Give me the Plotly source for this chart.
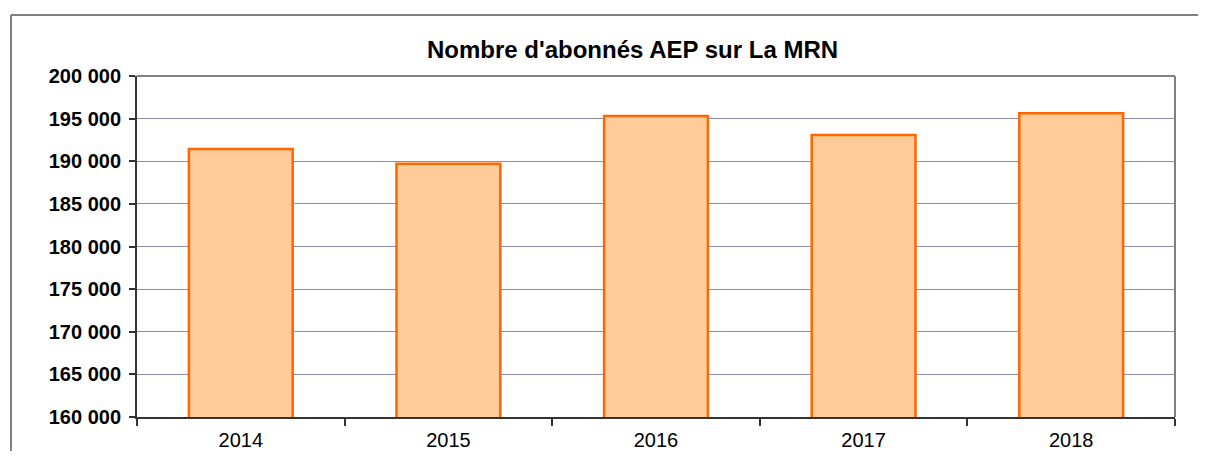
import plotly.graph_objects as go

years = ["2014", "2015", "2016", "2017", "2018"]
abonnes = [191450, 189720, 195310, 193090, 195620]
y_ticks = [160000, 165000, 170000, 175000, 180000, 185000, 190000, 195000, 200000]
y_labels = [f"<b>{v:,}</b>".replace(",", " ") for v in y_ticks]

FONT = "Liberation Sans, Arial, sans-serif"
W, H = 1190, 443  # page body adds an 8px margin; keep the page from overflowing

fig = go.Figure()
fig.add_trace(go.Bar(
    x=years, y=abonnes, width=0.5,
    marker=dict(color="#FFCC99", line=dict(color="#FF6600", width=2.5)),
))

fig.update_layout(
    width=W, height=H,
    margin=dict(l=129, r=23, t=68, b=34, autoexpand=False),
    paper_bgcolor="white", plot_bgcolor="white",
    showlegend=False,
    font=dict(family=FONT, color="black"),
    title=dict(text="<b>Nombre d'abonnés AEP sur La MRN</b>",
               font=dict(size=24, family=FONT, color="black"),
               x=0.4774, xref="paper", xanchor="center",
               y=1 - 42 / H, yref="container", yanchor="middle",
               automargin=False),
)
fig.update_xaxes(
    type="category", tickson="boundaries", ticks="outside", ticklen=7,
    tickcolor="#333333", tickwidth=1.5,
    showline=True, linecolor="#333333", linewidth=2,
    tickfont=dict(size=20, family=FONT),
    ticklabelstandoff=4, automargin=False,
    showgrid=False,
)
fig.update_yaxes(
    range=[160000, 200000], tickvals=y_ticks, ticktext=y_labels,
    ticks="outside", ticklen=6, tickcolor="#333333", tickwidth=1.5,
    showline=True, linecolor="#333333", linewidth=2,
    showgrid=True, gridcolor="#8c8cb4", gridwidth=1,
    tickfont=dict(size=20, family=FONT),
    ticklabelstandoff=4, zeroline=False, automargin=False,
)
# plot-area top and right border
fig.add_shape(type="line", xref="paper", yref="paper", x0=0, x1=1, y0=1, y1=1,
              line=dict(color="#808080", width=2))
fig.add_shape(type="line", xref="paper", yref="paper", x0=1, x1=1, y0=0, y1=1,
              line=dict(color="#808080", width=2))
# outer chart frame (top and left edges visible in the crop)
fig.add_shape(type="line", xref="paper", yref="paper", x0=-0.1214, x1=1.2, y0=1.1789, y1=1.1789,
              line=dict(color="#808080", width=2), layer="below")
fig.add_shape(type="line", xref="paper", yref="paper", x0=-0.1214, x1=-0.1214, y0=-0.3, y1=1.1789,
              line=dict(color="#808080", width=2), layer="below")

fig.write_html("out.html")
